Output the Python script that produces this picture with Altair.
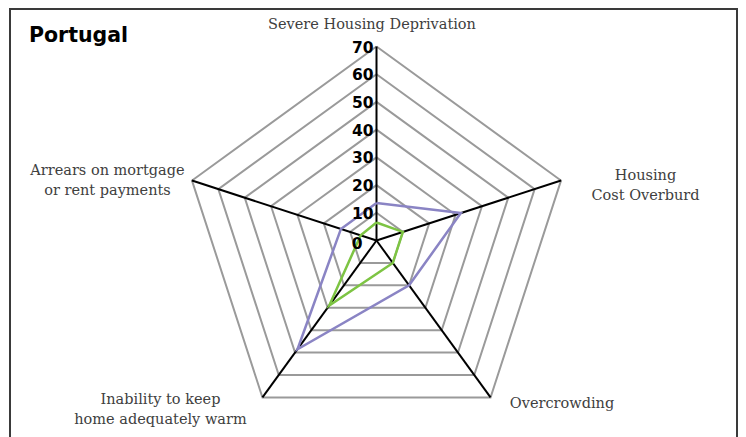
import math
import altair as alt
import pandas as pd

# ---------------- data ----------------
categories = [
    "Severe Housing Deprivation",
    "Housing Cost Overburden",
    "Overcrowding",
    "Inability to keep home adequately warm",
    "Arrears on mortgage or rent payments",
]
category_labels = [
    "Severe Housing Deprivation",
    "Housing\nCost Overburd",
    "Overcrowding",
    "Inability to keep\nhome adequately warm",
    "Arrears on mortgage\nor rent payments",
]
series_names = ["Below 60% of median income", "Total population"]
purple_values = [13.5, 32, 20, 48.5, 13.5]
green_values = [6.5, 10, 10, 29, 6]
grid_levels = [10, 20, 30, 40, 50, 60, 70]
tick_values = [10, 20, 30, 40, 50, 60, 70]
zero_tick = [0]
axis_max = 70
title_text = "Portugal"

# ---------------- tables ----------------
n = len(categories)
series_rows = []
for name, vals in zip(series_names, [purple_values, green_values]):
    for i in range(n + 1):
        series_rows.append({"series": name, "idx": i, "value": vals[i % n],
                            "category": categories[i % n]})
series_df = pd.DataFrame(series_rows)

grid_df = pd.DataFrame([{"level": lv, "idx": i, "value": lv}
                        for lv in grid_levels for i in range(n + 1)])
spoke_df = pd.DataFrame([{"idx": i, "value": axis_max} for i in range(n)])
label_df = pd.DataFrame([{"idx": i, "value": axis_max, "label": category_labels[i]}
                         for i in range(n)])
tick_df = pd.DataFrame([{"idx": 0, "value": v, "txt": str(v)} for v in tick_values])
zero_df = pd.DataFrame([{"idx": 0, "value": v, "txt": str(v)} for v in zero_tick])
one = pd.DataFrame([{"k": 1}])

# ---------------- geometry ----------------
W, H = 730, 429
cx, cy = 368.5, 232.5          # centre of the radar inside the view
k = 194 / axis_max             # pixels per unit
x_dom = [-cx / k, (W - cx) / k]
y_dom = [-(H - cy) / k, cy / k]

xs = alt.Scale(domain=x_dom, nice=False, zero=False)
ys = alt.Scale(domain=y_dom, nice=False, zero=False)

ang = f"PI/2 - datum.idx*2*PI/{n}"


def polar(ch):
    return ch.transform_calculate(
        px=f"datum.value*cos({ang})",
        py=f"datum.value*sin({ang})",
    )


X = alt.X("px:Q", scale=xs, axis=None)
Y = alt.Y("py:Q", scale=ys, axis=None)

grid = polar(alt.Chart(grid_df)).mark_line(color="#9a9a9a", strokeWidth=2).encode(
    x=X, y=Y, detail="level:N", order="idx:Q")

spokes = polar(alt.Chart(spoke_df)).transform_calculate(x0="0", y0="0").mark_rule(
    color="#000000", strokeWidth=2).encode(
    x=alt.X("x0:Q", scale=xs, axis=None), y=alt.Y("y0:Q", scale=ys, axis=None),
    x2="px:Q", y2="py:Q")

series = polar(alt.Chart(series_df)).mark_line(strokeWidth=2.5).encode(
    x=X, y=Y, order="idx:Q",
    color=alt.Color("series:N", scale=alt.Scale(domain=series_names,
                                                range=["#8a84c4", "#7dc443"]),
                    legend=None))

ticks = polar(alt.Chart(tick_df)).mark_text(
    align="right", baseline="middle", dx=-3, dy=1, fontSize=15.5, fontWeight="bold",
    font="DejaVu Sans", color="#000000").encode(x=X, y=Y, text="txt:N")

zero = polar(alt.Chart(zero_df)).mark_text(
    align="right", baseline="middle", dx=-14, dy=3, fontSize=15.5, fontWeight="bold",
    font="DejaVu Sans", color="#000000").encode(x=X, y=Y, text="txt:N")

label_offsets = [(-4.5, -21.5), (84.5, -4.5), (71.5, 6.5), (-102, 2.5), (-84.5, -10)]
label_layers = []
for i, (dx, dy) in enumerate(label_offsets):
    label_layers.append(
        polar(alt.Chart(label_df)).transform_filter(f"datum.idx == {i}").mark_text(
            align="center", baseline="middle", dx=dx, dy=dy, lineBreak="\n",
            lineHeight=20, fontSize=14.5, font="DejaVu Serif", color="#404040").encode(
            x=X, y=Y, text="label:N"))

title = alt.Chart(one).mark_text(
    align="left", baseline="alphabetic", fontSize=20.5, fontWeight="bold",
    font="DejaVu Sans", color="#000000").encode(
    x=alt.value(21), y=alt.value(34), text=alt.value(title_text))

frame_left = alt.Chart(one).mark_rule(color="#3a3a3a", strokeWidth=2).encode(
    x=alt.value(2), y=alt.value(0), y2=alt.value(H))
frame_right = alt.Chart(one).mark_rule(color="#3a3a3a", strokeWidth=2).encode(
    x=alt.value(W - 1), y=alt.value(0), y2=alt.value(H))
frame_top = alt.Chart(one).mark_rule(color="#3a3a3a", strokeWidth=2).encode(
    x=alt.value(2), x2=alt.value(W - 1), y=alt.value(1))

chart = alt.layer(
    grid, spokes, series, ticks, zero, *label_layers, title,
    frame_left, frame_right, frame_top,
).properties(
    width=W, height=H, autosize=alt.AutoSizeParams(type="none"), padding=0,
).configure_view(stroke=None)

chart.save("out.html", embed_options={"renderer": "svg", "actions": False})
